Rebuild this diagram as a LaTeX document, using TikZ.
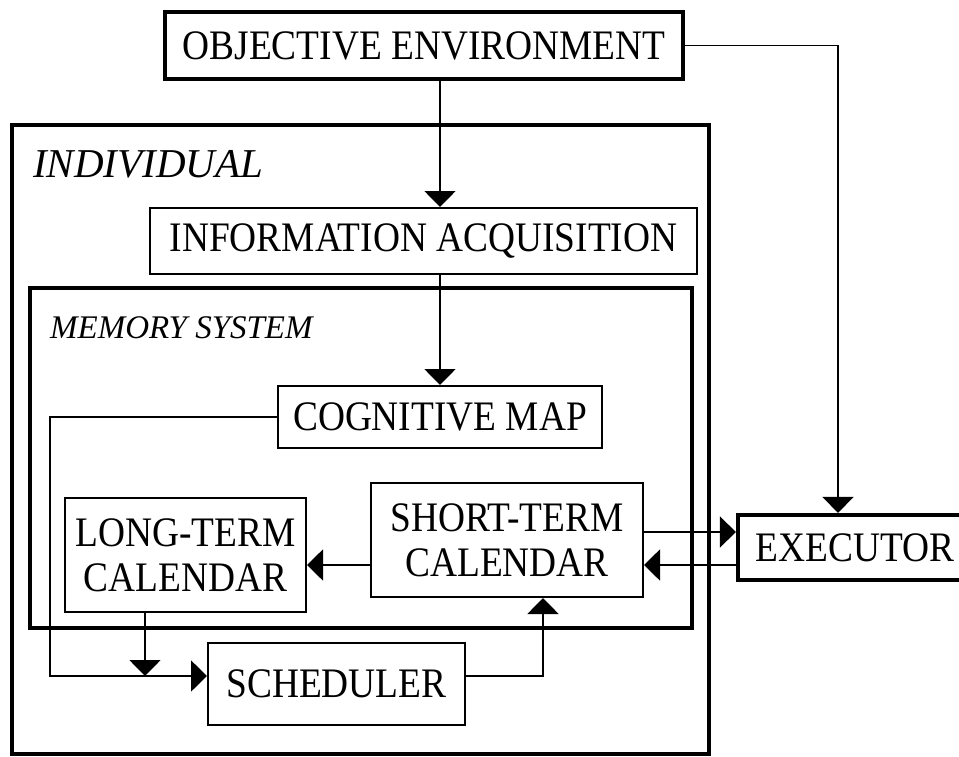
\documentclass[tikz,border=0pt]{standalone}
\usepackage{fontspec}
\setmainfont{Liberation Serif}[FakeStretch=0.89]
\newfontfamily\labfont{Liberation Serif}
\usetikzlibrary{arrows.meta}
\tikzset{
  x=1pt, y=-1pt,
  boxfont/.style={font=\fontsize{42}{45}\selectfont},
  thinbox/.style={draw, line width=2pt, inner sep=0pt, align=center, boxfont},
  thickbox/.style={draw, line width=4.2pt, inner sep=0pt, align=center, boxfont},
  conn/.style={line width=1.8pt},
  arr/.style={conn, -{Triangle[width=31pt,length=16pt]}},
  lab/.style={inner sep=0pt, anchor=west}
}
\begin{document}
\begin{tikzpicture}
\useasboundingbox (0,0) rectangle (959,756);
\clip (0,0) rectangle (959,756);
% containers
\node[thickbox, minimum width=697pt, minimum height=629pt] (indiv) at (360.5,439.5) {};
\node[thickbox, minimum width=662pt, minimum height=340pt] (memory) at (361,458) {};
% labels
\node[lab, font=\labfont\itshape\fontsize{41}{44}\selectfont] (indivlab) at (33,164) {INDIVIDUAL};
\node[lab, font=\labfont\itshape\fontsize{33}{36}\selectfont] (memlab) at (50,328) {MEMORY SYSTEM};
% boxes
\node[thickbox, fill=white, minimum width=518pt, minimum height=67pt] (obj) at (424,45.5) {OBJECTIVE ENVIRONMENT};
\node[thinbox, minimum width=547pt, minimum height=66pt] (info) at (423.5,241) {INFORMATION ACQUISITION};
\node[thinbox, minimum width=324pt, minimum height=62pt] (cog) at (440,417) {COGNITIVE MAP};
\node[thinbox, minimum width=241pt, minimum height=114pt] (lt) at (185.5,555) {LONG-TERM\\CALENDAR};
\node[thinbox, minimum width=272pt, minimum height=114pt] (st) at (507,540) {SHORT-TERM\\CALENDAR};
\node[thickbox, minimum width=234pt, minimum height=65pt] (exec) at (855,547.5) {EXECUTOR};
\node[thinbox, minimum width=257pt, minimum height=82pt] (sched) at (336.5,684) {SCHEDULER};
% helper coordinates
\coordinate (ej) at (838,45.5);
\coordinate (cl) at (50,676);
\coordinate (ltd) at (145,676);
\coordinate (sr) at (543,676);
\coordinate (ya) at (0,532);
\coordinate (yb) at (0,565);
% connectors
\draw[arr] (obj.south -| cog.north) -- (info.north -| cog.north);
\draw[arr] (info.south -| cog.north) -- (cog.north);
\draw[arr] (obj.east) -- (ej) -- (ej |- exec.north);
\draw[arr] (cog.west) -| (cl) -- (cl -| sched.west);
\draw[arr] (ltd |- lt.south) -- (ltd);
\draw[arr] (sched.east |- sr) -- (sr) -- (sr |- st.south);
\draw[arr] (st.west |- yb) -- (lt.east |- yb);
\draw[arr] (st.east |- ya) -- (exec.west |- ya);
\draw[arr] (exec.west |- yb) -- (st.east |- yb);
\end{tikzpicture}
\end{document}
